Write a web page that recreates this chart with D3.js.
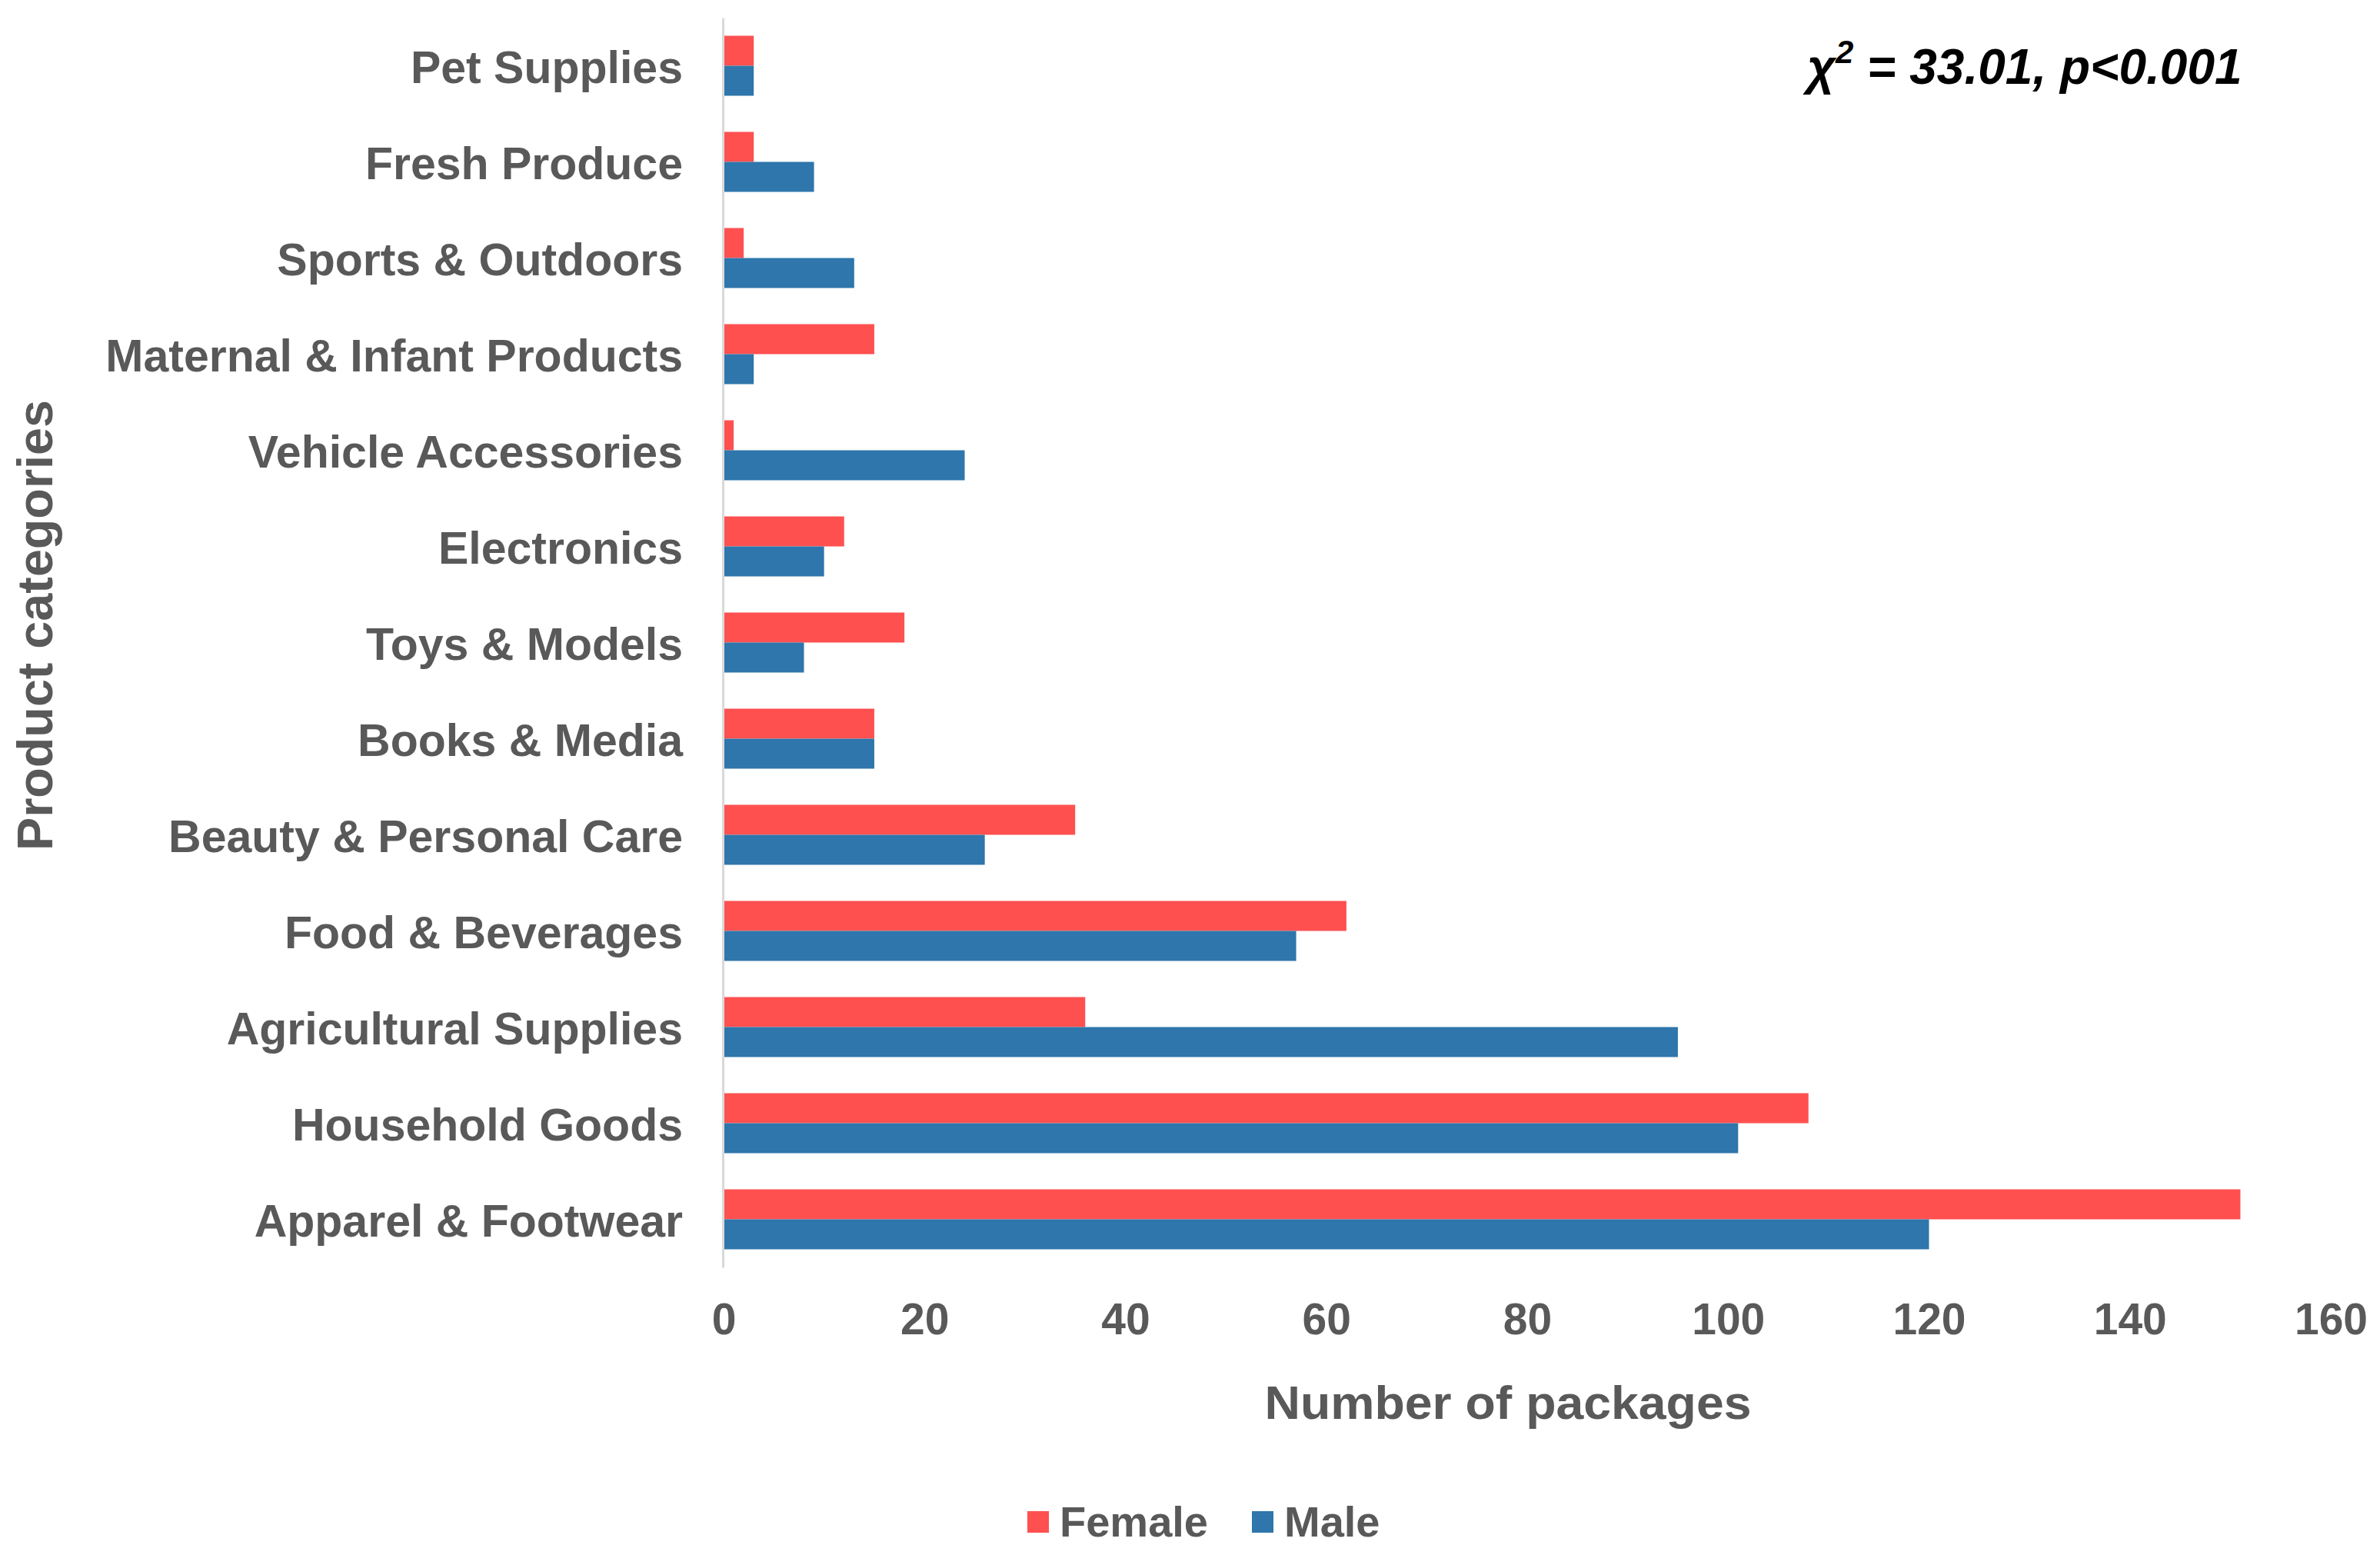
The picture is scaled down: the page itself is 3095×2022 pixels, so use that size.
<!DOCTYPE html>
<html>
<head>
<meta charset="utf-8">
<script src="https://cdn.jsdelivr.net/npm/d3@7"></script>
<style>
  html, body { margin: 0; padding: 0; background: #ffffff; }
  svg { display: block; }
  text { font-family: "Liberation Sans", Arial, sans-serif; }
</style>
</head>
<body>
<svg id="chart" width="3095" height="2022"></svg>
<script>
// ---- data (top to bottom as displayed) ----
const categories = [
  "Pet Supplies", "Fresh Produce", "Sports & Outdoors", "Maternal & Infant Products",
  "Vehicle Accessories", "Electronics", "Toys & Models", "Books & Media",
  "Beauty & Personal Care", "Food & Beverages", "Agricultural Supplies",
  "Household Goods", "Apparel & Footwear"
];
const femaleValues = [3, 3, 2, 15, 1, 12, 18, 15, 35, 62, 36, 108, 151];
const maleValues   = [3, 9, 13, 3, 24, 10, 8, 15, 26, 57, 95, 101, 120];
const seriesNames = ["Female", "Male"];
const seriesColors = ["#FF5050", "#2E76AB"];
const xTicks = [0, 20, 40, 60, 80, 100, 120, 140, 160];
const xTitle = "Number of packages";
const yTitle = "Product categories";

const svg = d3.select("#chart");
const textColor = "#595959";

const plotLeft = 941, plotRight = 3031, plotTop = 23, plotBottom = 1648;

const x = d3.scaleLinear().domain([0, 160]).range([plotLeft, plotRight]);
const y = d3.scaleBand().domain(categories).range([plotTop, plotBottom])
  .paddingInner(0.376).paddingOuter(0.188);
const ySub = d3.scaleBand().domain(seriesNames).range([0, y.bandwidth()]);

const rows = categories.map((c, i) => ({ cat: c, vals: [femaleValues[i], maleValues[i]] }));

// bars
const groups = svg.append("g").selectAll("g").data(rows).join("g")
  .attr("transform", d => `translate(0,${y(d.cat)})`);
groups.selectAll("rect")
  .data(d => d.vals.map((v, k) => ({ v, k })))
  .join("rect")
  .attr("x", x(0))
  .attr("y", d => ySub(seriesNames[d.k]))
  .attr("width", d => x(d.v) - x(0))
  .attr("height", ySub.bandwidth())
  .attr("fill", d => seriesColors[d.k]);

// y axis
const yAxis = svg.append("g")
  .attr("transform", `translate(${x(0) - 1},0)`)
  .call(d3.axisLeft(y).tickSize(0).tickSizeOuter(0).tickPadding(52));
yAxis.select(".domain").attr("stroke", "#D9D9D9").attr("stroke-width", 3);
yAxis.selectAll("text")
  .attr("fill", textColor)
  .attr("font-size", 59)
  .attr("font-weight", "bold")
  .attr("dy", "0.38em")
  .style("font-family", '"Liberation Sans", Arial, sans-serif');

// x axis (labels only)
const xAxis = svg.append("g")
  .attr("transform", `translate(0,${plotBottom})`)
  .call(d3.axisBottom(x).tickValues(xTicks).tickSize(0).tickPadding(47));
xAxis.select(".domain").remove();
xAxis.selectAll("text")
  .attr("fill", textColor)
  .attr("font-size", 57)
  .attr("font-weight", "bold")
  .style("font-family", '"Liberation Sans", Arial, sans-serif');

// axis titles
svg.append("text")
  .attr("x", 1961).attr("y", 1845)
  .attr("text-anchor", "middle")
  .attr("font-size", 62).attr("font-weight", "bold")
  .attr("fill", textColor)
  .attr("textLength", 633).attr("lengthAdjust", "spacingAndGlyphs")
  .text(xTitle);

svg.append("text")
  .attr("transform", "translate(68,813) rotate(-90)")
  .attr("text-anchor", "middle")
  .attr("font-size", 64).attr("font-weight", "bold")
  .attr("fill", textColor)
  .attr("textLength", 586).attr("lengthAdjust", "spacingAndGlyphs")
  .text(yTitle);

// chi-square annotation
const chi = svg.append("text")
  .attr("x", 2350).attr("y", 109)
  .attr("font-size", 64).attr("font-weight", "bold").attr("font-style", "italic")
  .attr("fill", "#000000");
chi.append("tspan").text("χ");
chi.append("tspan").attr("font-size", 42).attr("dy", -27).text("2");
chi.append("tspan").attr("dy", 27).text(" = 33.01, p<0.001");

// legend
const legendX = [1336, 1628];
const legend = svg.append("g").selectAll("g").data(seriesNames).join("g")
  .attr("transform", (d, i) => `translate(${legendX[i]},1965)`);
legend.append("rect")
  .attr("width", 28).attr("height", 28)
  .attr("fill", (d, i) => seriesColors[i]);
legend.append("text")
  .attr("x", 42).attr("y", 33)
  .attr("font-size", 56).attr("font-weight", "bold")
  .attr("fill", textColor)
  .text(d => d);
</script>
</body>
</html>
